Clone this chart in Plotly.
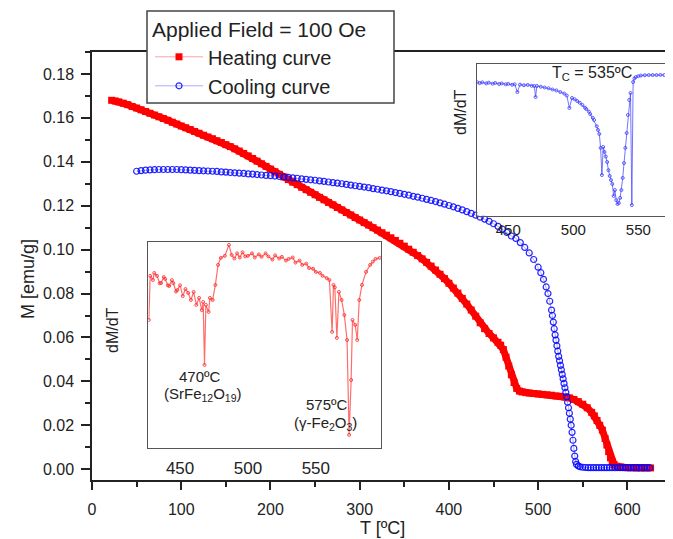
import plotly.graph_objects as go

# ---------------- data ----------------
heat_T = [22, 26, 30, 35, 40, 45, 50, 55, 60, 65, 70, 75, 80, 85, 90, 95, 100, 105, 110, 115,
          120, 125, 130, 135, 140, 145, 150, 155, 160, 165, 170, 175, 180, 185, 190, 195, 200,
          205, 210, 215, 220, 225, 230, 235, 240, 245, 250, 255, 260, 265, 270, 275, 280, 285,
          290, 295, 300, 305, 310, 315, 320, 325, 330, 335, 340, 345, 350, 355, 360, 365, 370,
          375, 380, 385, 390, 395, 400, 405, 410, 415, 420, 425, 430, 435, 440, 445, 450, 455,
          458, 461, 464, 467, 470, 473, 476, 479, 482, 486, 490, 495, 500, 505, 510, 515, 520,
          525, 530, 535, 540, 545, 550, 555, 560, 563, 566, 569, 572, 575, 577, 579, 581, 583,
          585, 588, 592, 596, 600, 605, 610, 615, 620, 626]
heat_M = [0.1680, 0.1677, 0.1673, 0.1667, 0.1660, 0.1652, 0.1645, 0.1637, 0.1629, 0.1621,
          0.1613, 0.1605, 0.1597, 0.1589, 0.1580, 0.1572, 0.1563, 0.1555, 0.1547, 0.1538,
          0.1530, 0.1521, 0.1513, 0.1505, 0.1496, 0.1488, 0.1478, 0.1469, 0.1459, 0.1449,
          0.1438, 0.1427, 0.1415, 0.1403, 0.1391, 0.1379, 0.1367, 0.1355, 0.1343, 0.1331,
          0.1319, 0.1307, 0.1296, 0.1284, 0.1273, 0.1261, 0.1250, 0.1238, 0.1227, 0.1215,
          0.1204, 0.1192, 0.1181, 0.1169, 0.1158, 0.1146, 0.1135, 0.1123, 0.1112, 0.1100,
          0.1089, 0.1077, 0.1066, 0.1054, 0.1042, 0.1029, 0.1016, 0.1002, 0.0988, 0.0973,
          0.0958, 0.0942, 0.0925, 0.0907, 0.0888, 0.0868, 0.0847, 0.0825, 0.0802, 0.0778,
          0.0752, 0.0725, 0.0697, 0.0667, 0.0640, 0.0618, 0.0598, 0.0578, 0.0565, 0.0545,
          0.0510, 0.0470, 0.0430, 0.0395, 0.0368, 0.0356, 0.0352, 0.0349, 0.0347, 0.0345,
          0.0343, 0.0341, 0.0339, 0.0337, 0.0334, 0.0332, 0.0329, 0.0325, 0.0318, 0.0308,
          0.0296, 0.0280, 0.0259, 0.0243, 0.0222, 0.0200, 0.0178, 0.0140, 0.0110, 0.0080,
          0.0052, 0.0034, 0.0022, 0.0014, 0.0010, 0.0008, 0.0007, 0.0007, 0.0006, 0.0006,
          0.0006, 0.0006]

cool_T = [50, 55, 60, 65, 70, 75, 80, 85, 90, 95, 100, 105, 110, 115, 120, 125, 130, 135, 140,
          145, 150, 155, 160, 165, 170, 175, 180, 185, 190, 195, 200, 205, 210, 215, 220, 225,
          230, 235, 240, 245, 250, 255, 260, 265, 270, 275, 280, 285, 290, 295, 300, 305, 310,
          315, 320, 325, 330, 335, 340, 345, 350, 355, 360, 365, 370, 375, 380, 385, 390, 395,
          400, 405, 410, 415, 420, 425, 430, 435, 440, 445, 450, 455, 460, 465, 470, 475, 480,
          485, 490, 495, 500, 503, 506, 509, 511, 513, 515, 516, 517, 518, 519, 520, 521, 522,
          523, 524, 525, 526, 527, 528, 529, 530, 531, 532, 533, 534, 535, 536, 537, 538, 539,
          540, 541, 542, 543, 545, 547, 550, 553, 556, 559, 562, 565, 568, 571, 574, 577, 580,
          583, 586, 589, 592, 595, 598, 601, 604, 607, 610, 613, 616, 619, 622, 625]
cool_M = [0.1357, 0.1360, 0.1362, 0.1363, 0.1364, 0.1365, 0.1365, 0.1365, 0.1365, 0.1365,
          0.1364, 0.1363, 0.1362, 0.1361, 0.1360, 0.1359, 0.1358, 0.1357, 0.1356, 0.1354,
          0.1353, 0.1351, 0.1350, 0.1348, 0.1347, 0.1345, 0.1344, 0.1342, 0.1340, 0.1338,
          0.1337, 0.1335, 0.1333, 0.1331, 0.1329, 0.1327, 0.1325, 0.1322, 0.1320, 0.1318,
          0.1316, 0.1313, 0.1311, 0.1308, 0.1305, 0.1303, 0.1300, 0.1297, 0.1294, 0.1291,
          0.1288, 0.1285, 0.1282, 0.1278, 0.1275, 0.1271, 0.1268, 0.1264, 0.1260, 0.1256,
          0.1252, 0.1248, 0.1243, 0.1239, 0.1234, 0.1229, 0.1224, 0.1219, 0.1213, 0.1207,
          0.1201, 0.1195, 0.1188, 0.1181, 0.1173, 0.1165, 0.1157, 0.1148, 0.1139, 0.1129,
          0.1118, 0.1106, 0.1093, 0.1078, 0.1062, 0.1051, 0.1032, 0.1010, 0.0985, 0.0955,
          0.0920, 0.0895, 0.0865, 0.0830, 0.0800, 0.0765, 0.0725, 0.0700, 0.0670, 0.0640,
          0.0612, 0.0588, 0.0562, 0.0538, 0.0514, 0.0494, 0.0473, 0.0453, 0.0432, 0.0412,
          0.0391, 0.0371, 0.0350, 0.0330, 0.0305, 0.0280, 0.0255, 0.0228, 0.0200, 0.0168,
          0.0132, 0.0095, 0.0060, 0.0035, 0.0022, 0.0015, 0.0011, 0.0009, 0.0008, 0.0007,
          0.0007, 0.0007, 0.0007, 0.0007, 0.0007, 0.0007, 0.0007, 0.0007, 0.0007, 0.0007,
          0.0007, 0.0007, 0.0007, 0.0007, 0.0007, 0.0007, 0.0007, 0.0007, 0.0007, 0.0007,
          0.0007, 0.0007, 0.0007, 0.0007, 0.0007]

# inset 1: dM/dT of cooling curve (arbitrary units)
ins1_T = [426, 428, 430, 433, 435, 438, 440, 443, 445, 448, 450, 453, 455, 457, 459, 462,
          465, 468, 470, 471, 472, 475, 478, 481, 484, 487, 490, 493, 495, 497, 499, 501,
          503, 505, 507, 509, 510, 512, 513, 515, 516, 518, 519, 520, 521, 522, 523, 524,
          525, 526, 527, 528, 529, 530, 531, 532, 533, 534, 535, 536, 537, 538, 539, 540,
          541, 542, 543, 544, 545, 546, 547, 548, 550, 552, 555, 558, 561, 564, 567, 570]
ins1_D = [0.881, 0.874, 0.879, 0.872, 0.877, 0.870, 0.875, 0.868, 0.872, 0.866, 0.869, 0.863,
          0.866, 0.815, 0.864, 0.860, 0.862, 0.856, 0.855, 0.782, 0.855, 0.850, 0.845, 0.840,
          0.832, 0.826, 0.815, 0.805, 0.792, 0.710, 0.776, 0.768, 0.756, 0.744, 0.730, 0.712,
          0.703, 0.686, 0.670, 0.645, 0.631, 0.590, 0.565, 0.539, 0.447, 0.268, 0.453, 0.420,
          0.390, 0.354, 0.300, 0.262, 0.235, 0.209, 0.130, 0.169, 0.103, 0.077, 0.084, 0.117,
          0.169, 0.249, 0.347, 0.447, 0.545, 0.664, 0.763, 0.809, 0.070, 0.881, 0.905, 0.914,
          0.920, 0.924, 0.926, 0.927, 0.927, 0.927, 0.928, 0.927]

# inset 2: dM/dT of heating curve (arbitrary units)
ins2_T = [427, 428, 430, 431, 433, 435, 436, 438, 439, 441, 442, 444, 445, 447, 448, 450,
          452, 454, 456, 458, 460, 462, 464, 466, 467, 468, 469, 471, 472, 474, 476, 478,
          480, 483, 486, 488, 490, 492, 494, 496, 498, 500, 503, 505, 508, 510, 513, 515,
          518, 520, 523, 525, 528, 530, 533, 535, 538, 540, 543, 545, 548, 550, 553, 555,
          558, 560, 562, 563, 564, 565.5, 567, 569, 571, 573, 574.5, 576, 577, 579, 580.5,
          582, 584, 587, 590, 592, 594, 597]
ins2_D = [0.622, 0.836, 0.816, 0.850, 0.836, 0.800, 0.801, 0.830, 0.821, 0.790, 0.787, 0.815,
          0.801, 0.760, 0.767, 0.790, 0.738, 0.772, 0.753, 0.719, 0.758, 0.695, 0.729, 0.670,
          0.709, 0.404, 0.695, 0.661, 0.729, 0.719, 0.792, 0.889, 0.923, 0.933, 0.986, 0.937,
          0.920, 0.945, 0.925, 0.950, 0.930, 0.933, 0.945, 0.925, 0.940, 0.928, 0.945, 0.930,
          0.915, 0.935, 0.920, 0.928, 0.910, 0.918, 0.925, 0.900, 0.910, 0.889, 0.895, 0.874,
          0.870, 0.855, 0.850, 0.836, 0.825, 0.816, 0.564, 0.792, 0.780, 0.535, 0.758, 0.719,
          0.646, 0.525, 0.065, 0.331, 0.622, 0.598, 0.525, 0.719, 0.792, 0.855, 0.889, 0.905,
          0.918, 0.923]

x_ticks = [0, 100, 200, 300, 400, 500, 600]
y_ticks = [0.00, 0.02, 0.04, 0.06, 0.08, 0.10, 0.12, 0.14, 0.16, 0.18]
y_labels = ["%.2f" % v for v in y_ticks]
ins1_ticks = [450, 500, 550]
ins2_ticks = [450, 500, 550]

# ---------------- figure ----------------
FONT = "Arial, Liberation Sans, sans-serif"
TXT = "#222222"
OFF = 8                      # page offset of the plot div (default body margin)
W, H = 673 - OFF, 539 - OFF  # figure size so that it fills the window exactly
# plot area, in page pixels
PL, PR, PT, PB = 92, 672, 52, 480
L, R, T, B = PL - OFF, W - (PR - OFF), PT - OFF, H - (PB - OFF)
PW, PH = PR - PL, PB - PT


def px(x):
    return (x - PL) / PW


def py(y):
    return (PB - y) / PH


fig = go.Figure()

# thick band under the heating markers (same data, no legend)
fig.add_trace(go.Scatter(
    x=heat_T, y=heat_M, mode="lines", showlegend=False, hoverinfo="skip",
    line=dict(color="#ff0000", width=7), xaxis="x", yaxis="y"))
fig.add_trace(go.Scatter(
    x=heat_T, y=heat_M, name="Heating curve", mode="lines+markers",
    line=dict(color="rgba(255,70,70,0.5)", width=1),
    marker=dict(symbol="square", size=7, color="#ff0000", line=dict(width=0)),
    xaxis="x", yaxis="y"))
fig.add_trace(go.Scatter(
    x=cool_T, y=cool_M, name="Cooling curve", mode="lines+markers",
    line=dict(color="rgba(90,90,255,0.5)", width=1),
    marker=dict(symbol="circle-open", size=6, color="rgba(0,0,255,0.85)", line=dict(width=1.2)),
    xaxis="x", yaxis="y"))
fig.add_trace(go.Scatter(
    x=ins1_T, y=ins1_D, mode="lines+markers", showlegend=False,
    line=dict(color="rgba(70,70,255,0.75)", width=1),
    marker=dict(symbol="circle-open", size=3, color="rgba(60,60,255,0.8)", line=dict(width=1)),
    xaxis="x2", yaxis="y2"))
fig.add_trace(go.Scatter(
    x=ins2_T, y=ins2_D, mode="lines+markers", showlegend=False,
    line=dict(color="rgba(255,60,60,0.75)", width=1.2),
    marker=dict(symbol="circle-open", size=3, color="rgba(255,40,40,0.8)", line=dict(width=1)),
    xaxis="x3", yaxis="y3"))

axis_common = dict(showgrid=False, zeroline=False, showline=True, linecolor=TXT, linewidth=1.5,
                   mirror=True, ticks="outside", tickcolor=TXT, tickwidth=1.5, automargin=False,
                   tickfont=dict(family=FONT, size=16, color=TXT))

inset_common = dict(showgrid=False, zeroline=False, showline=True, linecolor="#555555",
                    linewidth=1, mirror=True, ticks="", automargin=False,
                    tickfont=dict(family=FONT, size=16, color=TXT))

fig.update_layout(
    width=W, height=H,
    margin=dict(l=L, r=R, t=T, b=B, pad=0, autoexpand=False),
    paper_bgcolor="white", plot_bgcolor="white",
    font=dict(family=FONT, color=TXT),
    xaxis=dict(axis_common, range=[0, 650], tickvals=x_ticks, ticklen=8,
               ticklabelstandoff=6,
               minor=dict(ticks="outside", dtick=50, tick0=0, ticklen=5, tickcolor=TXT, tickwidth=1.5),
               domain=[0, 1]),
    yaxis=dict(axis_common, range=[-0.0049, 0.19], tickvals=y_ticks, ticktext=y_labels, ticklen=9,
               ticklabelstandoff=4,
               minor=dict(ticks="outside", dtick=0.01, tick0=0, ticklen=5, tickcolor=TXT, tickwidth=1.5),
               domain=[0, 1]),
    xaxis2=dict(inset_common, range=[426.2, 570.5], tickvals=ins1_ticks, anchor="y2",
                domain=[px(477.3), px(665)], tickfont=dict(family=FONT, size=15, color=TXT)),
    yaxis2=dict(inset_common, range=[0, 1], showticklabels=False, anchor="x2",
                domain=[py(215.7), py(64)]),
    xaxis3=dict(inset_common, range=[426.6, 598], tickvals=ins2_ticks, anchor="y3",
                ticklabelstandoff=4,
                domain=[px(148.3), px(381)], tickfont=dict(family=FONT, size=17, color=TXT)),
    yaxis3=dict(inset_common, range=[0, 1], showticklabels=False, anchor="x3",
                domain=[py(448.3), py(242)]),
    legend=dict(xref="container", yref="container", x=(150 - OFF) / W, y=1 - (10 - OFF) / H,
                xanchor="left", yanchor="top",
                bgcolor="rgba(0,0,0,0)", borderwidth=0,
                font=dict(family=FONT, size=20, color=TXT), itemwidth=48, tracegroupgap=0,
                title=dict(text="Applied Field = 100 Oe", font=dict(family=FONT, size=21, color=TXT))),
)

# legend frame (white box drawn over the top axis line)
fig.add_shape(type="rect", xref="paper", yref="paper",
              x0=px(147), x1=px(394), y0=py(103), y1=py(11),
              fillcolor="white", line=dict(color="#444444", width=1.5), layer="above")


def ann(x, y, text, size=15, angle=0):
    fig.add_annotation(x=px(x), y=py(y), xref="paper", yref="paper", text=text, showarrow=False,
                       textangle=angle, xanchor="center", yanchor="middle",
                       font=dict(family=FONT, size=size, color=TXT))


ann(28, 279, "M [emu/g]", 18, -90)
ann(383, 528, "T [ºC]", 18)
ann(460, 112, "dM/dT", 16, -90)
ann(592, 73, "T<sub>C</sub> = 535ºC", 16)
ann(112, 330, "dM/dT", 16, -90)
ann(200, 376.7, "470ºC", 15)
ann(203.3, 394, "(SrFe<sub>12</sub>O<sub>19</sub>)", 15)
ann(326.7, 404.3, "575ºC", 15)
ann(325, 423, "(γ-Fe<sub>2</sub>O<sub>3</sub>)", 15)

fig.write_html("out.html")
